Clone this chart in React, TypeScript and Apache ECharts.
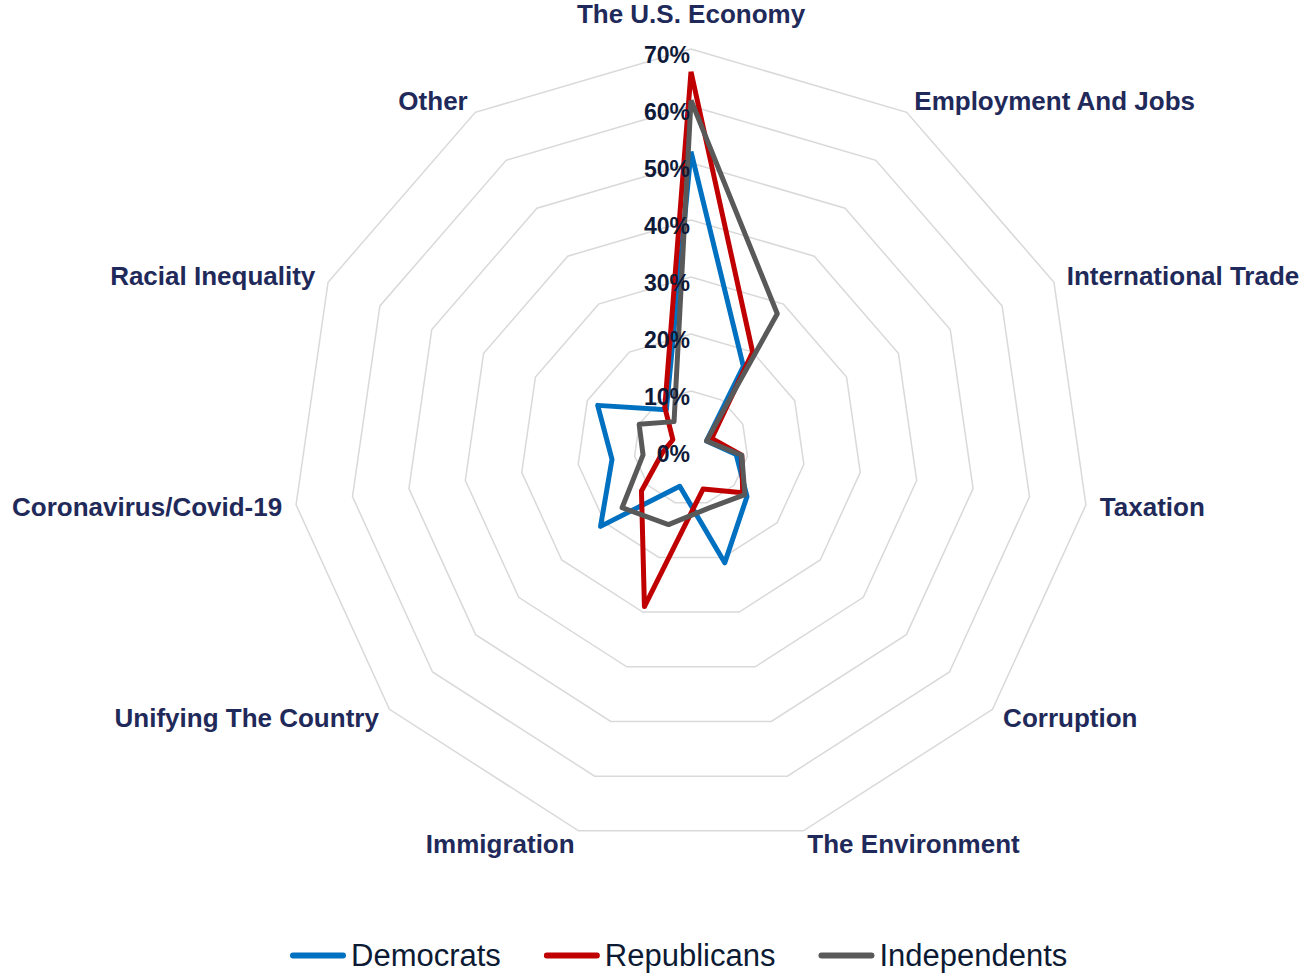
import React, { useEffect, useRef } from "react";
import * as echarts from "echarts";

const categories = [
  "The U.S. Economy",
  "Employment And Jobs",
  "International Trade",
  "Taxation",
  "Corruption",
  "The Environment",
  "Immigration",
  "Unifying The Country",
  "Coronavirus/Covid-19",
  "Racial Inequality",
  "Other",
];
const democrats = [52, 17, 3, 8, 13, 21, 7, 21, 14, 18, 8];
const republicans = [66, 20, 4, 9, 12, 7.5, 29, 11.5, 5, 3.5, 8.5];
const independents = [61, 28, 3, 9, 12.5, 11, 14, 16, 8.5, 10, 5.5];
const seriesNames = ["Democrats", "Republicans", "Independents"];
const seriesColors = ["#0070c0", "#c00000", "#595959"];
const axisMax = 70;
const axisStep = 10;

// ECharts radar places indicators counter-clockwise; reorder to run clockwise
function clockwise<T>(a: T[]): T[] {
  return [a[0], ...a.slice(1).reverse()];
}

const FONT = "'Liberation Sans', Arial, sans-serif";
const NAME_STYLE = { color: "#1f2a5a", fontSize: 26, fontWeight: "bold", fontFamily: FONT };

export default function App() {
  const ref = useRef<HTMLDivElement>(null);
  useEffect(() => {
    if (!ref.current) return;
    const chart = echarts.init(ref.current, undefined, { renderer: "svg" });
    const values = [democrats, republicans, independents];
    chart.setOption({
      animation: false,
      backgroundColor: "#ffffff",
      textStyle: { fontFamily: FONT },
      legend: {
        data: seriesNames,
        top: 935,
        left: 285,
        icon: "path://M3,0 L54,0 A3,3 0 0 1 54,6 L3,6 A3,3 0 0 1 3,0 Z",
        itemWidth: 56,
        itemHeight: 6,
        itemGap: 43,
        textStyle: { fontSize: 31, color: "#0c1a33", fontFamily: FONT },
      },
      radar: {
        center: [691, 448],
        radius: 399,
        startAngle: 90,
        shape: "polygon",
        splitNumber: axisMax / axisStep,
        nameGap: 14,
        indicator: clockwise(categories).map((name) => ({ name, min: 0, max: axisMax })),
        axisName: {
          ...NAME_STYLE,
          formatter: (name: string) => (name === categories[0] ? "{top|" + name + "}" : name),
          rich: { top: { ...NAME_STYLE, padding: [0, 0, 8, 0] } },
        },
        axisLine: { show: false },
        axisTick: { show: false },
        axisLabel: { show: false },
        splitArea: { show: false },
        splitLine: { lineStyle: { color: "#d9d9d9", width: 1.5 } },
      },
      polar: { center: [691, 448], radius: 399 },
      angleAxis: { show: false, startAngle: 90, min: 0, max: 360 },
      radiusAxis: {
        min: 0,
        max: axisMax,
        interval: axisStep,
        z: 10,
        axisLine: { show: false },
        axisTick: { show: false },
        splitLine: { show: false },
        axisLabel: {
          formatter: "{value}%",
          fontSize: 23,
          fontWeight: "bold",
          color: "#0e1a38",
          fontFamily: FONT,
          margin: 1,
          verticalAlign: "top",
          lineHeight: 12,
        },
      },
      series: [
        {
          type: "radar",
          symbol: "none",
          data: seriesNames.map((name, i) => ({
            name,
            value: clockwise(values[i]),
            lineStyle: { color: seriesColors[i], width: 5 },
            itemStyle: { color: seriesColors[i] },
          })),
        },
      ],
    });
    return () => chart.dispose();
  }, []);
  return (
    <div
      ref={ref}
      style={{ position: "fixed", left: 0, top: 0, width: 1311, height: 976 }}
    />
  );
}
